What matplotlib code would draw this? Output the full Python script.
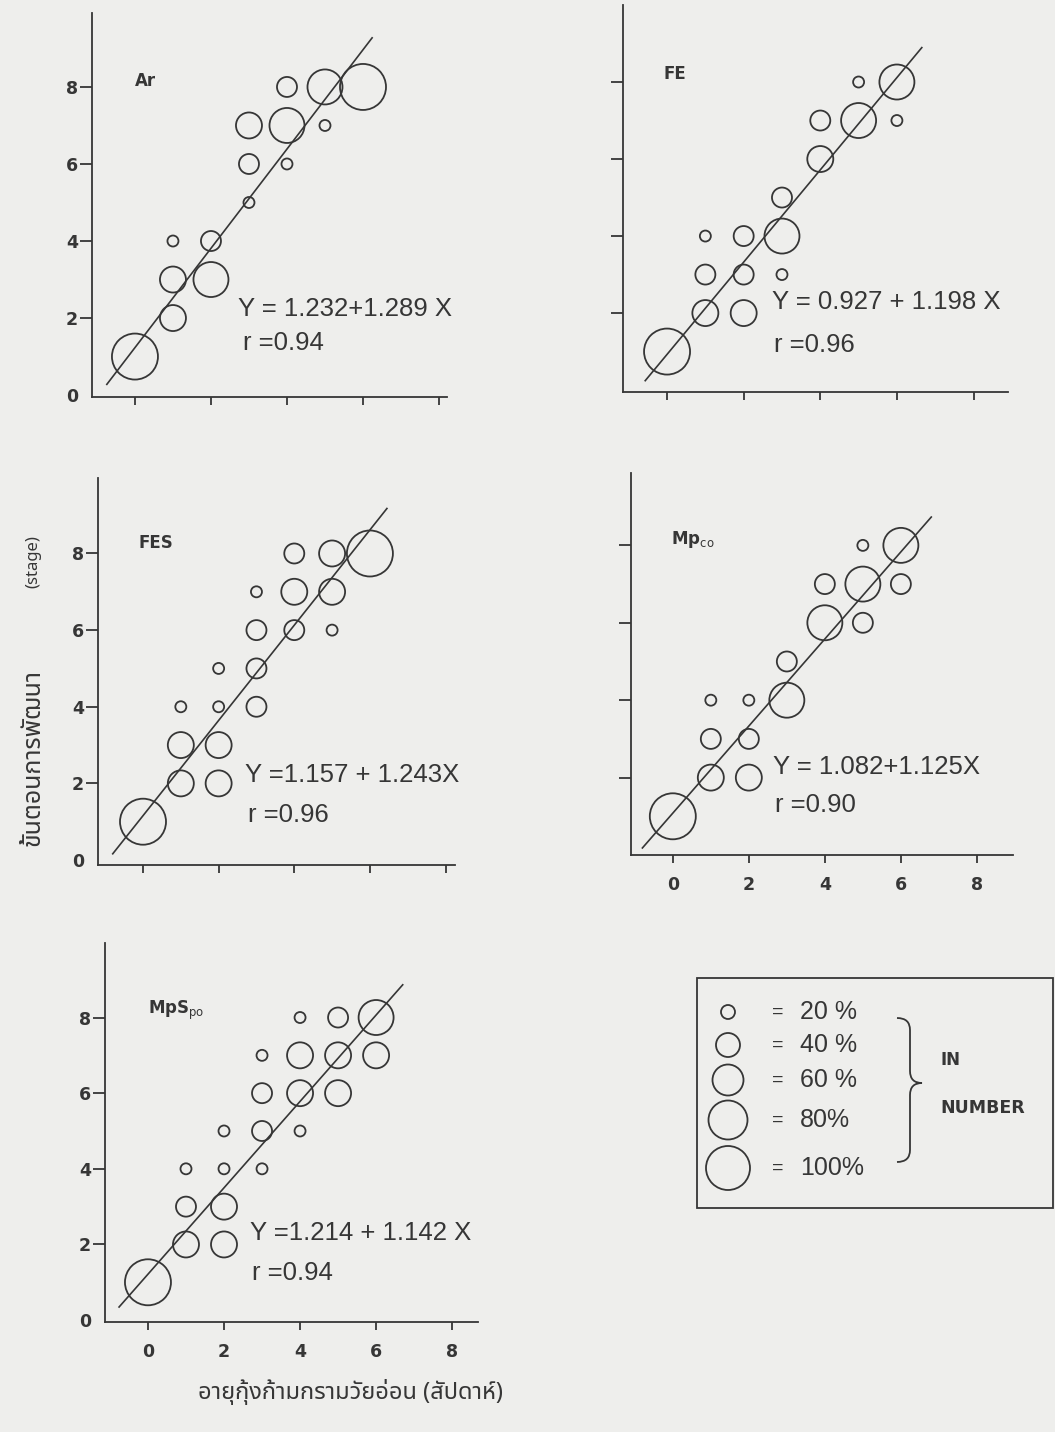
import matplotlib
matplotlib.use("Agg")
import matplotlib.pyplot as plt
from matplotlib.path import Path
from matplotlib.patches import PathPatch, Rectangle

W, H = 1055, 1432
BG = "#eeeeec"
INK = "#363636"

NARROW = ["Liberation Sans Narrow", "Liberation Sans", "DejaVu Sans"]
THAI = ["Noto Sans Thai", "Noto Sans Thai Looped", "Loma", "Garuda", "Tlwg Typo", "DejaVu Sans"]

# ===================== DATA =====================
# age (weeks) vs stage, circle = % of individuals
ar_x = [0, 1, 1, 1, 2, 2, 3, 3, 3, 4, 4, 4, 5, 5, 6]
ar_y = [1, 2, 3, 4, 3, 4, 5, 6, 7, 6, 7, 8, 7, 8, 8]
ar_pct = [100, 60, 60, 20, 80, 40, 20, 40, 60, 20, 80, 40, 20, 80, 100]
ar_fit = (1.232, 1.289, 0.94)
ar_span = (-0.74, 6.24)
ar_eq = "Y = 1.232+1.289 X"

fe_x = [0, 1, 2, 1, 2, 3, 1, 2, 3, 3, 4, 4, 5, 6, 5, 6]
fe_y = [1, 2, 2, 3, 3, 3, 4, 4, 4, 5, 6, 7, 7, 7, 8, 8]
fe_pct = [100, 60, 60, 40, 40, 20, 20, 40, 80, 40, 60, 40, 80, 20, 20, 80]
fe_fit = (0.927, 1.198, 0.96)
fe_span = (-0.57, 6.65)
fe_eq = "Y = 0.927 + 1.198 X"

fes_x = [0, 1, 2, 1, 2, 1, 2, 3, 2, 3, 3, 4, 5, 3, 4, 5, 4, 5, 6]
fes_y = [1, 2, 2, 3, 3, 4, 4, 4, 5, 5, 6, 6, 6, 7, 7, 7, 8, 8, 8]
fes_pct = [100, 60, 60, 60, 60, 20, 20, 40, 20, 40, 40, 40, 20, 20, 60, 60, 40, 60, 100]
fes_fit = (1.157, 1.243, 0.96)
fes_span = (-0.8, 6.45)
fes_eq = "Y =1.157 + 1.243X"

mpco_x = [0, 1, 2, 1, 2, 1, 2, 3, 3, 4, 5, 4, 5, 6, 5, 6]
mpco_y = [1, 2, 2, 3, 3, 4, 4, 4, 5, 6, 6, 7, 7, 7, 8, 8]
mpco_pct = [100, 60, 60, 40, 40, 20, 20, 80, 40, 80, 40, 40, 80, 40, 20, 80]
mpco_fit = (1.082, 1.125, 0.90)
mpco_span = (-0.8, 6.8)
mpco_eq = "Y = 1.082+1.125X"

mpspo_x = [0, 1, 2, 1, 2, 1, 2, 3, 2, 3, 4, 3, 4, 5, 3, 4, 5, 6, 4, 5, 6]
mpspo_y = [1, 2, 2, 3, 3, 4, 4, 4, 5, 5, 5, 6, 6, 6, 7, 7, 7, 7, 8, 8, 8]
mpspo_pct = [100, 60, 60, 40, 60, 20, 20, 20, 20, 40, 20, 40, 60, 60, 20, 60, 60, 60, 20, 40, 80]
mpspo_fit = (1.214, 1.142, 0.94)
mpspo_span = (-0.76, 6.7)
mpspo_eq = "Y =1.214 + 1.142 X"

legend_pct = [20, 40, 60, 80, 100]
tick_vals = [0, 2, 4, 6, 8]

y_label_th = "ขั้นตอนการพัฒนา"
y_label_unit = "(stage)"
x_label = "อายุกุ้งก้ามกรามวัยอ่อน (สัปดาห์)"

# circle diameter in pixels for each class
DIAM = {20: 11, 40: 20, 60: 26, 80: 35, 100: 46}
LEG_DIAM = {20: 14, 40: 24, 60: 31, 80: 39, 100: 44}


def px_size(d):
    return (d * 72 / 100) ** 2


fig = plt.figure(figsize=(W / 100, H / 100), dpi=100)
fig.patch.set_facecolor(BG)


def add_px_axes(left, top, right, bottom):
    return fig.add_axes([left / W, 1 - bottom / H, (right - left) / W, (bottom - top) / H])


panels = [
    dict(name="Ar", x=ar_x, y=ar_y, pct=ar_pct, fit=ar_fit, span=ar_span, eqs=ar_eq,
         box=(92, 13, 447, 397), xlim=(-1.13, 8.21), ylim=(-0.05, 9.92),
         ylab=True, xlab=False, npos=(0.0, 8.15), eq=(2.71, 2.23, 2.85, 1.35)),
    dict(name="FE", x=fe_x, y=fe_y, pct=fe_pct, fit=fe_fit, span=fe_span, eqs=fe_eq,
         box=(623, 5, 1008, 392), xlim=(-1.15, 8.9), ylim=(-0.05, 10.0),
         ylab=False, xlab=False, npos=(-0.1, 8.2), eq=(2.74, 2.29, 2.8, 1.17)),
    dict(name="FES", x=fes_x, y=fes_y, pct=fes_pct, fit=fes_fit, span=fes_span, eqs=fes_eq,
         box=(98, 478, 455, 865), xlim=(-1.19, 8.25), ylim=(-0.13, 9.97),
         ylab=True, xlab=False, npos=(-0.13, 8.27), eq=(2.7, 2.22, 2.78, 1.17)),
    dict(name=r"Mp$_{\rm co}$", x=mpco_x, y=mpco_y, pct=mpco_pct, fit=mpco_fit, span=mpco_span,
         eqs=mpco_eq, box=(631, 473, 1013, 855), xlim=(-1.1, 8.95), ylim=(0.0, 9.87),
         ylab=False, xlab=True, npos=(-0.05, 8.14), eq=(2.63, 2.27, 2.7, 1.29)),
    dict(name=r"MpS$_{\rm po}$", x=mpspo_x, y=mpspo_y, pct=mpspo_pct, fit=mpspo_fit, span=mpspo_span,
         eqs=mpspo_eq, box=(105, 943, 478, 1322), xlim=(-1.13, 8.68), ylim=(-0.05, 9.97),
         ylab=True, xlab=True, npos=(0.0, 8.2), eq=(2.68, 2.3, 2.73, 1.24)),
]

for p in panels:
    ax = add_px_axes(*p["box"])
    ax.set_facecolor("none")
    ax.set_xlim(*p["xlim"])
    ax.set_ylim(*p["ylim"])
    for s in ["top", "right"]:
        ax.spines[s].set_visible(False)
    for s in ["left", "bottom"]:
        ax.spines[s].set_color(INK)
        ax.spines[s].set_linewidth(1.3)

    sizes = [px_size(DIAM[v]) for v in p["pct"]]
    ax.scatter(p["x"], p["y"], s=sizes, facecolors="none", edgecolors=INK,
               linewidths=1.3, clip_on=False, zorder=3)

    a, b, r = p["fit"]
    x0, x1 = p["span"]
    ax.plot([x0, x1], [a + b * x0, a + b * x1], color=INK, lw=1.2, zorder=2, clip_on=False)

    ax.set_xticks(tick_vals)
    if p["xlab"]:
        ax.set_xticklabels([str(v) for v in tick_vals], fontsize=12.5, fontweight="bold", color=INK)
    else:
        ax.set_xticklabels([])
    ax.tick_params(axis="x", direction="out", length=6, width=1.3, pad=9, colors=INK)

    if p["ylab"]:
        ax.set_yticks(tick_vals)
        ax.set_yticklabels([str(v) for v in tick_vals], fontsize=12.5, fontweight="bold", color=INK)
        ax.yaxis.get_major_ticks()[0].tick1line.set_visible(False)
    else:
        ax.set_yticks(tick_vals[1:])
        ax.set_yticklabels([])
    ax.tick_params(axis="y", direction="out", length=9, width=1.3, pad=1, colors=INK)

    ax.text(p["npos"][0], p["npos"][1], p["name"], fontsize=12, fontweight="bold",
            color=INK, ha="left", va="center")
    ex, ey, rx, ry = p["eq"]
    ax.text(ex, ey, p["eqs"], family=NARROW, fontsize=18.5,
            color=INK, ha="left", va="center")
    ax.text(rx, ry, f"r ={r:.2f}", family=NARROW, fontsize=18.5,
            color=INK, ha="left", va="center")

# overlay in pixel coords for legend box and axis titles
ov = fig.add_axes([0, 0, 1, 1])
ov.set_xlim(0, W)
ov.set_ylim(H, 0)
ov.axis("off")

ov.add_patch(Rectangle((697, 978), 356, 230, fill=False, ec=INK, lw=1.3))
leg_y = [1012, 1045, 1080, 1120, 1168]
for pc, yy in zip(legend_pct, leg_y):
    ov.scatter([728], [yy], s=px_size(LEG_DIAM[pc]), facecolors="none",
               edgecolors=INK, linewidths=1.3)
    ov.text(778, yy, "=", family=NARROW, fontsize=14, color=INK, ha="center", va="center")
    ov.text(800, yy, f"{pc} %" if pc < 80 else f"{pc}%", family=NARROW, fontsize=18,
            color=INK, ha="left", va="center")

brace = Path(
    [(897, 1018), (910, 1018), (910, 1030), (910, 1071), (910, 1083), (922, 1083),
     (910, 1083), (910, 1095), (910, 1150), (910, 1162), (897, 1162)],
    [Path.MOVETO, Path.CURVE3, Path.CURVE3, Path.LINETO, Path.CURVE3, Path.CURVE3,
     Path.CURVE3, Path.CURVE3, Path.LINETO, Path.CURVE3, Path.CURVE3])
ov.add_patch(PathPatch(brace, fill=False, ec=INK, lw=1.3))
ov.text(940, 1060, "IN", fontsize=12, fontweight="bold", color=INK, ha="left", va="center")
ov.text(940, 1108, "NUMBER", fontsize=12.5, fontweight="bold", color=INK, ha="left", va="center")

ov.text(33, 757, y_label_th, family=THAI, fontsize=18, fontweight="bold", color=INK,
        rotation=90, ha="center", va="center")
ov.text(33, 562, y_label_unit, family=THAI, fontsize=12, color=INK,
        rotation=90, ha="center", va="center")
ov.text(350, 1392, x_label, family=THAI, fontsize=17, fontweight="bold", color=INK,
        ha="center", va="center")

fig.savefig("out.png", dpi=100, facecolor=BG)
